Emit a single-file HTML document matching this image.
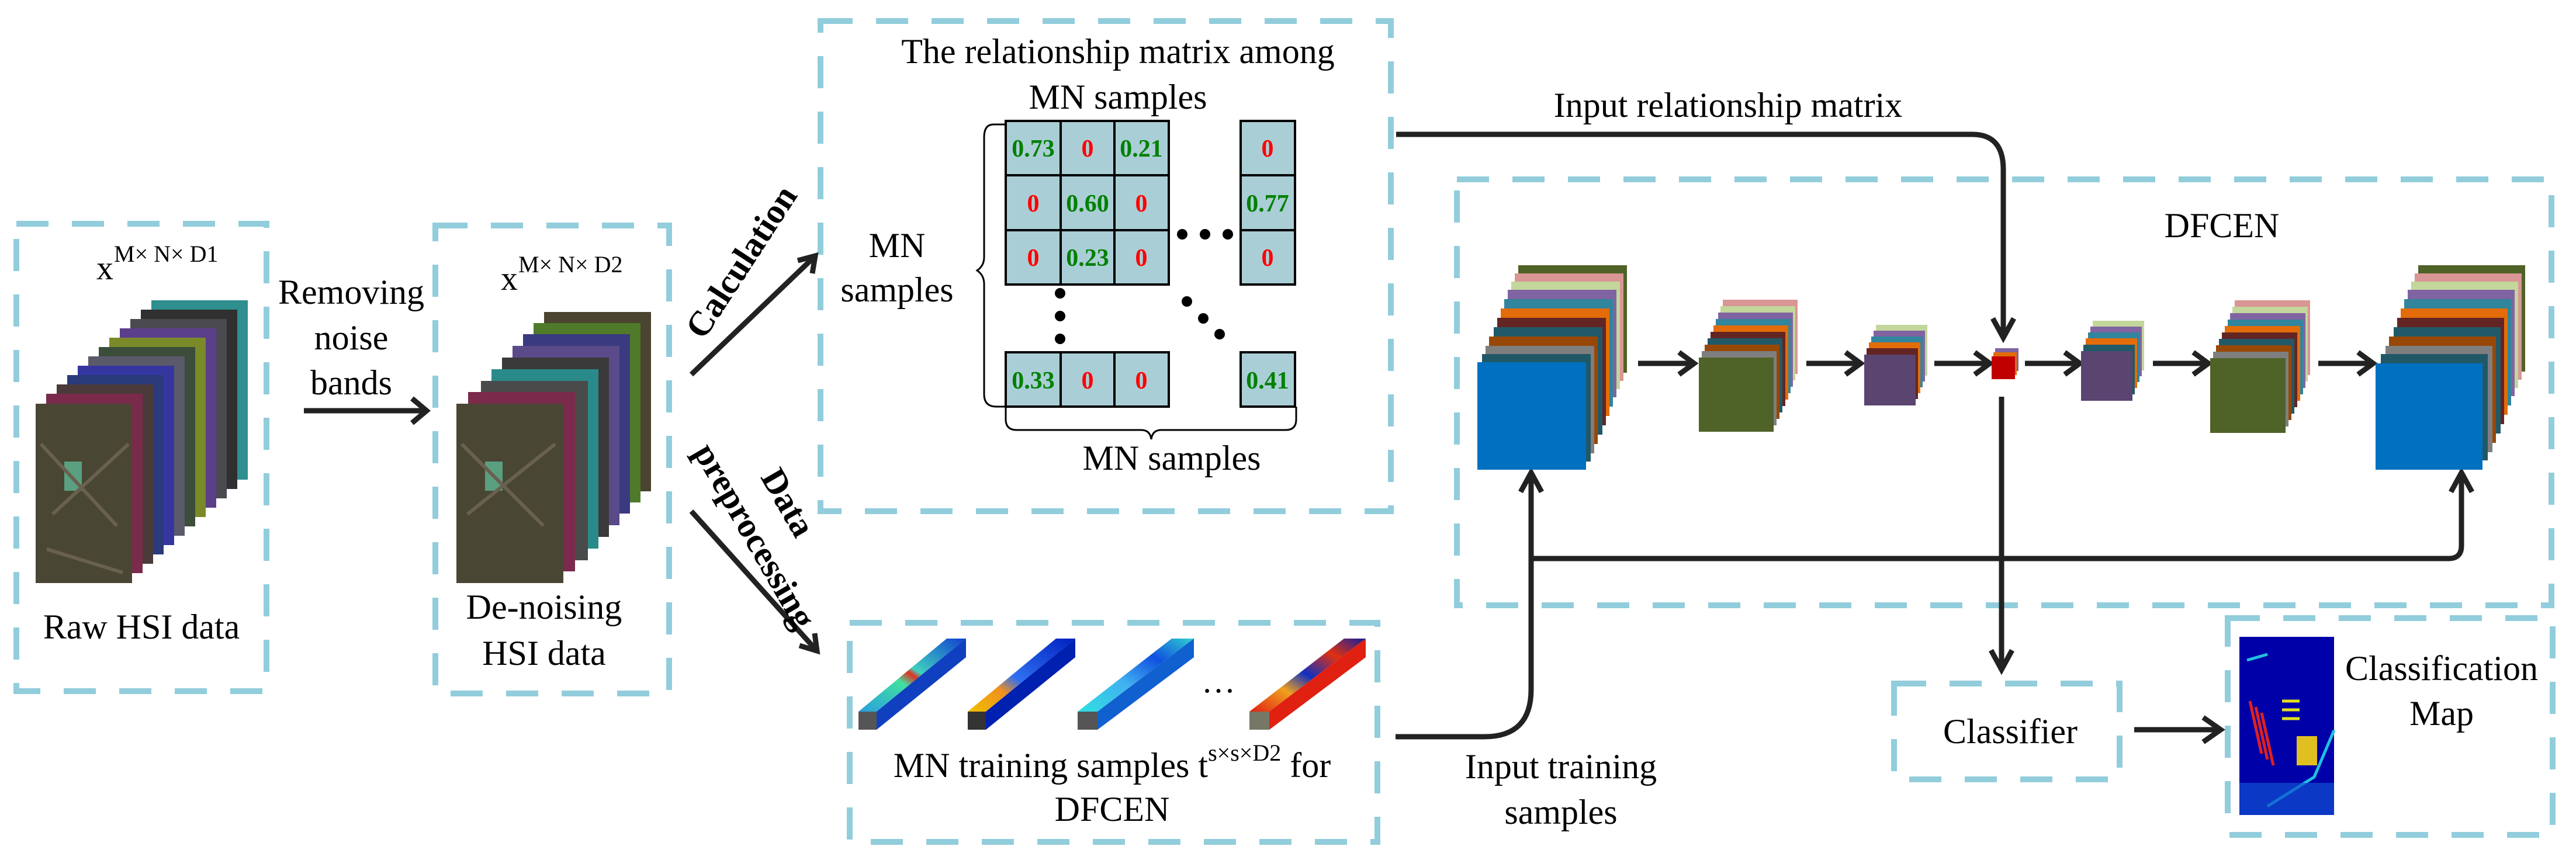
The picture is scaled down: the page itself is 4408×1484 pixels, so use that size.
<!DOCTYPE html>
<html><head><meta charset="utf-8"><style>
html,body{margin:0;padding:0;background:#fff;}
svg{display:block;}
</style></head><body>
<svg width="4408" height="1484" viewBox="0 0 4408 1484" xmlns="http://www.w3.org/2000/svg" font-family="'Liberation Serif', 'DejaVu Serif', serif" style="font-family:'Liberation Serif','DejaVu Serif',serif">
<defs>
<linearGradient id="g1" x1="0" y1="1" x2="1" y2="0"><stop offset="0" stop-color="#2a9de0"/><stop offset="0.4" stop-color="#40e0a0"/><stop offset="0.5" stop-color="#e03020"/><stop offset="0.55" stop-color="#40d0c0"/><stop offset="1" stop-color="#1040d0"/></linearGradient>
<linearGradient id="g2" x1="0" y1="1" x2="1" y2="0"><stop offset="0" stop-color="#f0c000"/><stop offset="0.3" stop-color="#f09020"/><stop offset="0.45" stop-color="#3070f0"/><stop offset="1" stop-color="#0020c0"/></linearGradient>
<linearGradient id="g3" x1="0" y1="1" x2="1" y2="0"><stop offset="0" stop-color="#30e0e0"/><stop offset="0.4" stop-color="#40b0f0"/><stop offset="0.7" stop-color="#1050e0"/><stop offset="1" stop-color="#30d0d0"/></linearGradient>
<linearGradient id="g4" x1="0" y1="1" x2="1" y2="0"><stop offset="0" stop-color="#e02010"/><stop offset="0.3" stop-color="#f0a020"/><stop offset="0.5" stop-color="#1030c0"/><stop offset="0.75" stop-color="#e03010"/><stop offset="1" stop-color="#1020a0"/></linearGradient>
</defs>

<g fill="none" stroke="#92cddc" stroke-width="10" stroke-dasharray="55,40">
<rect x="28" y="383" width="428" height="800"/>
<rect x="745" y="386" width="400" height="801"/>
<rect x="1404" y="36" width="976" height="839"/>
<rect x="1454" y="1066" width="903" height="375"/>
<rect x="2493" y="307" width="1873" height="729"/>
<rect x="3241" y="1170" width="386" height="164"/>
<rect x="3812" y="1058" width="556" height="371"/>
</g>

<!-- HSI stack 1 -->
<g>
<rect x="259" y="514" width="165" height="307" fill="#2f8e8e"/>
<rect x="241" y="530" width="165" height="307" fill="#303030"/>
<rect x="223" y="546" width="165" height="307" fill="#4a4a50"/>
<rect x="205" y="562" width="165" height="307" fill="#5b3f8a"/>
<rect x="187" y="578" width="165" height="307" fill="#7a8a28"/>
<rect x="169" y="594" width="165" height="307" fill="#3c4d3a"/>
<rect x="151" y="610" width="165" height="307" fill="#5a5a6a"/>
<rect x="133" y="626" width="165" height="307" fill="#3636a0"/>
<rect x="115" y="642" width="165" height="307" fill="#2a3a7a"/>
<rect x="97" y="658" width="165" height="307" fill="#4a3a3a"/>
<rect x="79" y="674" width="165" height="307" fill="#7a2a4a"/>
<rect x="61" y="691" width="165" height="307" fill="#4a4634"/>
<rect x="110" y="790" width="30" height="50" fill="#5aa080"/>
<path d="M70 760 L200 900 M90 880 L220 760 M80 940 L210 980" stroke="#6a6050" stroke-width="6"/>
</g>
<g fill="#000">
<text x="165" y="478" font-size="58">x</text><text x="195" y="448" font-size="40">M× N× D1</text>
<text x="242" y="1093" font-size="60" text-anchor="middle">Raw HSI data</text>
<text x="601" y="520" font-size="60" text-anchor="middle">Removing</text>
<text x="601" y="598" font-size="60" text-anchor="middle">noise</text>
<text x="601" y="675" font-size="60" text-anchor="middle">bands</text>
</g>
<g stroke="#222" stroke-width="9" fill="none"><path d="M520 703 H728"/><path d="M705 682 L730 703 L705 724"/></g>

<!-- HSI stack 2 -->
<g>
<rect x="931" y="534" width="183" height="307" fill="#4a4430"/>
<rect x="913" y="553" width="183" height="307" fill="#4e7a2a"/>
<rect x="895" y="572" width="183" height="307" fill="#3a3a80"/>
<rect x="877" y="592" width="183" height="307" fill="#5a4a8a"/>
<rect x="859" y="612" width="183" height="307" fill="#3a3a3a"/>
<rect x="841" y="632" width="183" height="307" fill="#2a8a8a"/>
<rect x="823" y="652" width="183" height="307" fill="#4a4a4a"/>
<rect x="801" y="671" width="183" height="307" fill="#7a2a4a"/>
<rect x="781" y="691" width="183" height="307" fill="#4a4634"/>
<rect x="830" y="790" width="30" height="50" fill="#5aa080"/>
<path d="M790 760 L930 900 M800 880 L950 760" stroke="#6a6050" stroke-width="6"/>
</g>
<g fill="#000">
<text x="857" y="496" font-size="58">x</text><text x="887" y="466" font-size="40">M× N× D2</text>
<text x="931" y="1059" font-size="60" text-anchor="middle">De-noising</text>
<text x="931" y="1138" font-size="60" text-anchor="middle">HSI data</text>
</g>

<g stroke="#222" stroke-width="9" fill="none"><path d="M1183 641 L1393 440"/><path d="M1365 446 L1395 438 L1390 468"/>
<path d="M1183 875 L1396 1112"/><path d="M1368 1105 L1398 1114 L1394 1084"/></g>
<g fill="#000" font-weight="bold" font-size="60">
<text x="1270" y="449" text-anchor="middle" transform="rotate(-57 1270 449)" dy="18">Calculation</text>
<text x="1347" y="861" text-anchor="middle" transform="rotate(60 1347 861)" dy="18">Data</text>
<text x="1290" y="918" text-anchor="middle" transform="rotate(60 1290 918)" dy="18">preprocessing</text>
</g>

<!-- matrix -->
<g fill="#000">
<text x="1913" y="108" font-size="60" text-anchor="middle">The relationship matrix among</text>
<text x="1913" y="186" font-size="60" text-anchor="middle">MN samples</text>
</g>
<g fill="#aaced6" stroke="#000" stroke-width="4">
<rect x="1721" y="207" width="94" height="93"/><rect x="1815" y="207" width="92" height="93"/><rect x="1907" y="207" width="93" height="93"/>
<rect x="1721" y="300" width="94" height="94"/><rect x="1815" y="300" width="92" height="94"/><rect x="1907" y="300" width="93" height="94"/>
<rect x="1721" y="394" width="94" height="93"/><rect x="1815" y="394" width="92" height="93"/><rect x="1907" y="394" width="93" height="93"/>
<rect x="2123" y="207" width="93" height="93"/><rect x="2123" y="300" width="93" height="94"/><rect x="2123" y="394" width="93" height="93"/>
<rect x="1721" y="603" width="94" height="93"/><rect x="1815" y="603" width="92" height="93"/><rect x="1907" y="603" width="93" height="93"/>
<rect x="2123" y="603" width="93" height="93"/>
</g>
<g font-size="42" font-weight="bold" text-anchor="middle">
<text x="1768" y="268" fill="#008000">0.73</text><text x="1861" y="268" fill="#ff0000">0</text><text x="1953" y="268" fill="#008000">0.21</text><text x="2169" y="268" fill="#ff0000">0</text>
<text x="1768" y="362" fill="#ff0000">0</text><text x="1861" y="362" fill="#008000">0.60</text><text x="1953" y="362" fill="#ff0000">0</text><text x="2169" y="362" fill="#008000">0.77</text>
<text x="1768" y="455" fill="#ff0000">0</text><text x="1861" y="455" fill="#008000">0.23</text><text x="1953" y="455" fill="#ff0000">0</text><text x="2169" y="455" fill="#ff0000">0</text>
<text x="1768" y="665" fill="#008000">0.33</text><text x="1861" y="665" fill="#ff0000">0</text><text x="1953" y="665" fill="#ff0000">0</text><text x="2169" y="665" fill="#008000">0.41</text>
</g>
<g fill="#000">
<circle cx="2023" cy="401" r="9"/><circle cx="2062" cy="401" r="9"/><circle cx="2101" cy="401" r="9"/>
<circle cx="1814" cy="502" r="9"/><circle cx="1814" cy="541" r="9"/><circle cx="1814" cy="580" r="9"/>
<circle cx="2031" cy="516" r="9"/><circle cx="2059" cy="545" r="9"/><circle cx="2087" cy="572" r="9"/>
</g>
<g stroke="#000" stroke-width="3" fill="none">
<path d="M1721 213 H1700 Q1684 213 1684 235 V440 Q1684 455 1672 463 Q1684 471 1684 486 V675 Q1684 696 1705 696 H1721"/>
<path d="M1721 696 V718 Q1721 736 1740 736 H1953 Q1968 736 1970 752 Q1972 736 1987 736 H2200 Q2218 736 2218 718 V696"/>
</g>
<g fill="#000">
<text x="1535" y="440" font-size="60" text-anchor="middle">MN</text>
<text x="1535" y="516" font-size="60" text-anchor="middle">samples</text>
<text x="2005" y="804" font-size="60" text-anchor="middle">MN samples</text>
</g>

<!-- training bars -->
<g>
<polygon points="1469,1218 1620,1093 1653,1093 1500,1218" fill="url(#g1)"/><polygon points="1500,1218 1653,1093 1653,1125 1500,1249" fill="#1040c0"/><rect x="1469" y="1218" width="31" height="31" fill="#555"/>
<polygon points="1656,1218 1807,1093 1840,1093 1687,1218" fill="url(#g2)"/><polygon points="1687,1218 1840,1093 1840,1125 1687,1249" fill="#0020b0"/><rect x="1656" y="1218" width="31" height="31" fill="#333"/>
<polygon points="1844,1218 2005,1093 2043,1093 1878,1218" fill="url(#g3)"/><polygon points="1878,1218 2043,1093 2043,1125 1878,1249" fill="#1060d0"/><rect x="1844" y="1218" width="34" height="31" fill="#555"/>
<polygon points="2138,1218 2300,1093 2337,1093 2172,1218" fill="url(#g4)"/><polygon points="2172,1218 2337,1093 2337,1125 2172,1249" fill="#e02010"/><rect x="2138" y="1218" width="34" height="31" fill="#776"/>
</g>
<g fill="#000">
<text x="2085" y="1185" font-size="58" text-anchor="middle">…</text>
<text x="1903" y="1330" font-size="60" text-anchor="middle">MN training samples t<tspan font-size="40" dy="-28">s×s×D2</tspan><tspan dy="28"> for</tspan></text>
<text x="1903" y="1405" font-size="60" text-anchor="middle">DFCEN</text>
</g>

<!-- connectors -->
<g stroke="#222" stroke-width="9" fill="none">
<path d="M2389 230 H3375 Q3428 230 3428 290 V575"/><path d="M3410 545 L3428 578 L3446 545"/>
<path d="M2388 1261 H2540 Q2620 1261 2620 1180 V812"/><path d="M2602 842 L2620 809 L2638 842"/>
<path d="M2620 956 H4190 Q4212 956 4212 934 V812"/><path d="M4194 842 L4212 809 L4230 842"/>
<path d="M3425 679 V1143"/><path d="M3407 1113 L3425 1146 L3443 1113"/>
<path d="M3652 1249 H3798"/><path d="M3770 1228 L3800 1249 L3770 1270"/>
<path d="M2803 622 H2896"/><path d="M2873 603 L2899 622 L2873 641"/>
<path d="M3091 622 H3181"/><path d="M3158 603 L3184 622 L3158 641"/>
<path d="M3310 622 H3402"/><path d="M3379 603 L3405 622 L3379 641"/>
<path d="M3465 622 H3556"/><path d="M3533 603 L3559 622 L3533 641"/>
<path d="M3684 622 H3776"/><path d="M3753 603 L3779 622 L3753 641"/>
<path d="M3967 622 H4058"/><path d="M4035 603 L4061 622 L4035 641"/>
</g>
<g fill="#000">
<text x="2957" y="200" font-size="60" text-anchor="middle">Input relationship matrix</text>
<text x="2671" y="1332" font-size="60" text-anchor="middle">Input training</text>
<text x="2671" y="1410" font-size="60" text-anchor="middle">samples</text>
<text x="3802" y="406" font-size="60" text-anchor="middle">DFCEN</text>
</g>

<!-- blocks -->
<g>
<rect x="2598" y="454" width="186" height="184" fill="#4f6228"/>
<rect x="2592" y="468" width="186" height="184" fill="#d99694"/>
<rect x="2586" y="482" width="186" height="184" fill="#c3d69b"/>
<rect x="2580" y="496" width="186" height="184" fill="#8064a2"/>
<rect x="2574" y="512" width="186" height="184" fill="#31859c"/>
<rect x="2568" y="528" width="186" height="184" fill="#e36c09"/>
<rect x="2562" y="544" width="186" height="184" fill="#632523"/>
<rect x="2556" y="560" width="186" height="184" fill="#215968"/>
<rect x="2548" y="576" width="186" height="184" fill="#974806"/>
<rect x="2542" y="592" width="186" height="184" fill="#7f7f7f"/>
<rect x="2536" y="606" width="186" height="184" fill="#215868"/>
<rect x="2528" y="620" width="186" height="184" fill="#0070c0"/>
</g>
<g>
<rect x="2948" y="513" width="128" height="127" fill="#d99694"/>
<rect x="2944" y="524" width="128" height="127" fill="#c3d69b"/>
<rect x="2940" y="535" width="128" height="127" fill="#8064a2"/>
<rect x="2936" y="546" width="128" height="127" fill="#31859c"/>
<rect x="2932" y="557" width="128" height="127" fill="#e36c09"/>
<rect x="2927" y="568" width="128" height="127" fill="#632523"/>
<rect x="2922" y="579" width="128" height="127" fill="#215968"/>
<rect x="2917" y="590" width="128" height="127" fill="#974806"/>
<rect x="2912" y="601" width="128" height="127" fill="#7f7f7f"/>
<rect x="2907" y="612" width="128" height="127" fill="#4f6228"/>
</g>
<g>
<rect x="3210" y="556" width="88" height="87" fill="#c3d69b"/>
<rect x="3206" y="566" width="88" height="87" fill="#8064a2"/>
<rect x="3202" y="576" width="88" height="87" fill="#31859c"/>
<rect x="3198" y="586" width="88" height="87" fill="#e36c09"/>
<rect x="3194" y="596" width="88" height="87" fill="#632523"/>
<rect x="3190" y="607" width="88" height="87" fill="#5a4470"/>
</g>
<g>
<rect x="3414" y="596" width="40" height="39" fill="#8064a2"/>
<rect x="3411" y="603" width="40" height="39" fill="#e36c09"/>
<rect x="3408" y="610" width="40" height="39" fill="#c00000"/>
</g>
<g>
<rect x="3581" y="549" width="88" height="85" fill="#c3d69b"/>
<rect x="3577" y="559" width="88" height="85" fill="#8064a2"/>
<rect x="3573" y="569" width="88" height="85" fill="#31859c"/>
<rect x="3569" y="579" width="88" height="85" fill="#e36c09"/>
<rect x="3565" y="590" width="88" height="85" fill="#215968"/>
<rect x="3561" y="601" width="88" height="85" fill="#5a4470"/>
</g>
<g>
<rect x="3824" y="514" width="129" height="128" fill="#d99694"/>
<rect x="3820" y="525" width="129" height="128" fill="#c3d69b"/>
<rect x="3816" y="536" width="129" height="128" fill="#8064a2"/>
<rect x="3812" y="547" width="129" height="128" fill="#31859c"/>
<rect x="3807" y="558" width="129" height="128" fill="#e36c09"/>
<rect x="3802" y="569" width="129" height="128" fill="#632523"/>
<rect x="3797" y="580" width="129" height="128" fill="#215968"/>
<rect x="3792" y="591" width="129" height="128" fill="#974806"/>
<rect x="3787" y="602" width="129" height="128" fill="#7f7f7f"/>
<rect x="3782" y="613" width="129" height="128" fill="#4f6228"/>
</g>
<g>
<rect x="4138" y="454" width="183" height="182" fill="#4f6228"/>
<rect x="4132" y="468" width="183" height="182" fill="#d99694"/>
<rect x="4126" y="482" width="183" height="182" fill="#c3d69b"/>
<rect x="4120" y="496" width="183" height="182" fill="#8064a2"/>
<rect x="4114" y="512" width="183" height="182" fill="#31859c"/>
<rect x="4108" y="528" width="183" height="182" fill="#e36c09"/>
<rect x="4102" y="544" width="183" height="182" fill="#632523"/>
<rect x="4096" y="560" width="183" height="182" fill="#215968"/>
<rect x="4088" y="576" width="183" height="182" fill="#974806"/>
<rect x="4082" y="592" width="183" height="182" fill="#7f7f7f"/>
<rect x="4074" y="606" width="183" height="182" fill="#215868"/>
<rect x="4065" y="622" width="183" height="182" fill="#0070c0"/>
</g>

<text x="3440" y="1272" font-size="60" text-anchor="middle" fill="#000">Classifier</text>
<rect x="3832" y="1090" width="162" height="305" fill="#0000a8"/>
<g stroke-width="5" fill="none">
<path d="M3850 1200 L3870 1290 M3860 1210 L3880 1300 M3870 1220 L3890 1310" stroke="#e02020"/>
<path d="M3905 1200 L3935 1200 M3905 1215 L3935 1215 M3905 1230 L3935 1230" stroke="#e0e020"/>
<path d="M3845 1130 L3880 1120 M3880 1380 L3960 1330 L3994 1250" stroke="#20c0e0"/>
</g>
<rect x="3930" y="1260" width="35" height="50" fill="#e0c020"/>
<rect x="3832" y="1340" width="162" height="55" fill="#1050d0" opacity="0.7"/>
<text x="4178" y="1164" font-size="60" text-anchor="middle" fill="#000">Classification</text>
<text x="4178" y="1241" font-size="60" text-anchor="middle" fill="#000">Map</text>
</svg>
</body></html>
